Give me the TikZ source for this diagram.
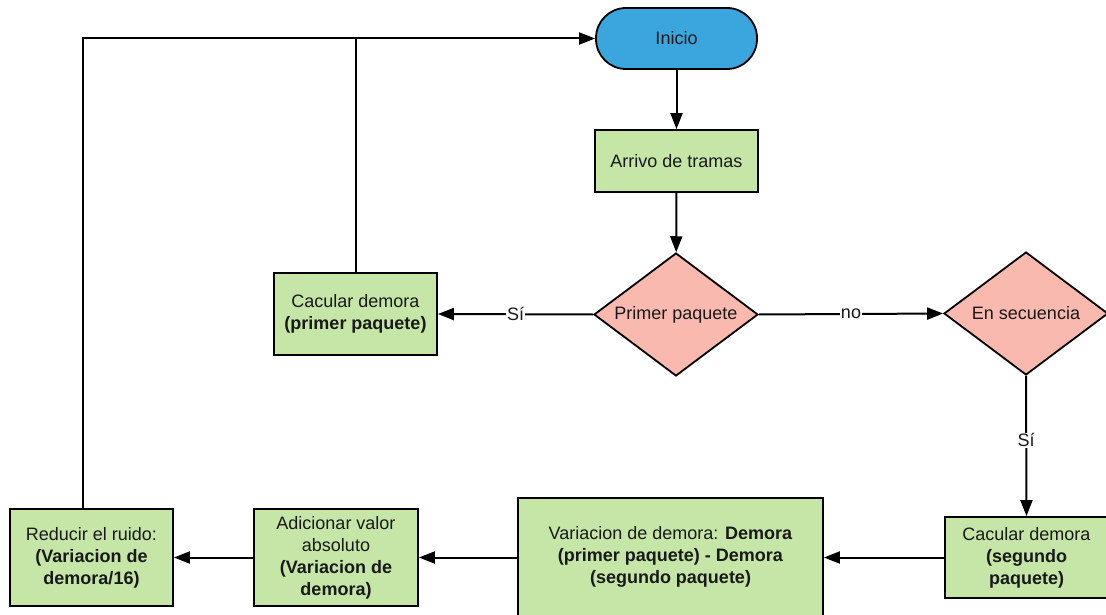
\documentclass[tikz,border=0pt]{standalone}
\usepackage{fontspec}
\setmainfont{Liberation Sans}
\usetikzlibrary{shapes.geometric,arrows.meta}

\definecolor{startblue}{RGB}{58,166,221}
\definecolor{procgreen}{RGB}{197,230,166}
\definecolor{decpink}{RGB}{250,185,174}
\definecolor{inkdark}{RGB}{25,25,25}

\tikzset{
  base/.style={draw=black, line width=1.8pt, text=inkdark, align=center,
    font=\fontsize{18}{22}\selectfont, inner sep=2pt},
  startbox/.style={base, rectangle, rounded corners=30pt, fill=startblue,
    minimum width=161pt, minimum height=61pt},
  procbox/.style={base, rectangle, fill=procgreen},
  decbox/.style={base, diamond, fill=decpink, inner sep=0pt,
    minimum width=164pt, minimum height=123pt},
  flow/.style={line width=2pt, draw=black, -{Triangle[length=16pt,width=12pt]}},
  joinline/.style={line width=2pt, draw=black},
  branch/.style={fill=white, text=inkdark, inner sep=1pt,
    font=\fontsize{18}{22}\selectfont}
}

\begin{document}
\begin{tikzpicture}[x=1pt, y=-1pt]
  \useasboundingbox (0,0) rectangle (1106,615);

  % start terminal
  \node[startbox] (ini) at (676.5,38.5) {Inicio};

  % processes
  \node[procbox, minimum width=163pt, minimum height=62pt] (arr) at (676.5,161) {Arrivo de tramas};
  \node[procbox, minimum width=163pt, minimum height=82pt] (cp) at (355.5,314)
    {Cacular demora\\\textbf{(primer paquete)}};
  \node[procbox, minimum width=163pt, minimum height=81pt] (cs) at (1026.5,557.5)
    {Cacular demora\\\textbf{(segundo}\\\textbf{paquete)}};
  \node[procbox, minimum width=305pt, minimum height=118pt] (var) at (670.5,557)
    {Variacion de demora: \textbf{Demora}\\\textbf{(primer paquete) - Demora}\\\textbf{(segundo paquete)}};
  \node[procbox, minimum width=164pt, minimum height=97pt] (adi) at (336,557.5)
    {Adicionar valor\\absoluto\\\textbf{(Variacion de}\\\textbf{demora)}};
  \node[procbox, minimum width=163pt, minimum height=97pt] (red) at (91.5,557.5)
    {Reducir el ruido:\\\textbf{(Variacion de}\\\textbf{demora/16)}};

  % decisions
  \node[decbox, label={[text=inkdark, font=\fontsize{18}{22}\selectfont]center:Primer paquete}] (d1) at (676,314.5) {};
  \node[decbox, label={[text=inkdark, font=\fontsize{18}{22}\selectfont]center:En secuencia}] (d2) at (1026,313.5) {};

  % connectors
  \draw[flow] (ini) -- (arr);
  \draw[flow] (arr) -- (d1);
  \draw[flow] (d1.west) -- node[branch] {Sí} (cp.east);
  \draw[flow] (d1.east) -- node[branch] {no} (d2.west);
  \draw[flow] (d2.south) -- node[branch, pos=0.46] {Sí} (cs.north);
  \draw[flow] (cs.west) -- (var.east |- cs.west);
  \draw[flow] (var.west |- adi.east) -- (adi.east);
  \draw[flow] (adi.west) -- (red.east);

  % feedback to start
  \coordinate (redtop) at ([xshift=-8.5pt]red.north);
  \draw[flow] (redtop) -- (redtop |- ini.west) -- (ini.west);
  \draw[joinline] (cp.north) -- (cp.north |- ini.west);
\end{tikzpicture}
\end{document}
